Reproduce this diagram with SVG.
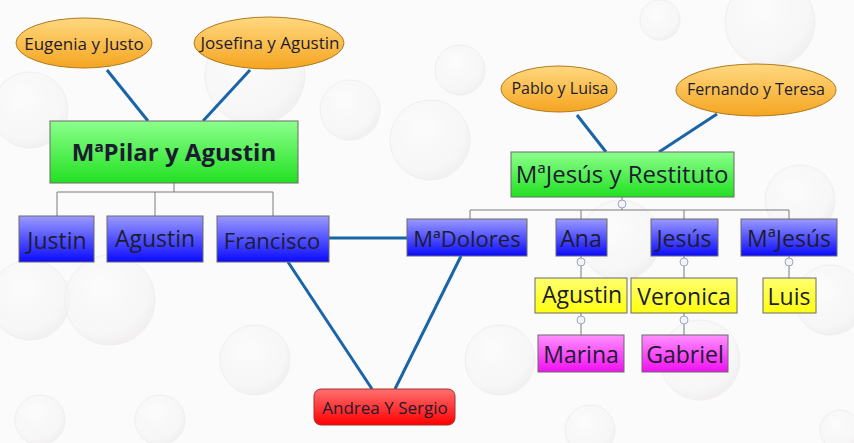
<svg xmlns="http://www.w3.org/2000/svg" width="854" height="443" viewBox="0 0 854 443">
<defs>
<linearGradient id="gBlue" x1="0" y1="0" x2="0" y2="1"><stop offset="0" stop-color="#9a9aff"/><stop offset="1" stop-color="#0a0aff"/></linearGradient>
<linearGradient id="gGreen" x1="0" y1="0" x2="0" y2="1"><stop offset="0" stop-color="#8cff8c"/><stop offset="1" stop-color="#22e022"/></linearGradient>
<linearGradient id="gYellow" x1="0" y1="0" x2="0" y2="1"><stop offset="0" stop-color="#ffff70"/><stop offset="1" stop-color="#ffff10"/></linearGradient>
<linearGradient id="gPink" x1="0" y1="0" x2="0" y2="1"><stop offset="0" stop-color="#ff90ff"/><stop offset="1" stop-color="#f010f0"/></linearGradient>
<linearGradient id="gOrange" x1="0" y1="0" x2="0" y2="1"><stop offset="0" stop-color="#ffd880"/><stop offset="1" stop-color="#f5a520"/></linearGradient>
<linearGradient id="gRed" x1="0" y1="0" x2="0" y2="1"><stop offset="0" stop-color="#ff7070"/><stop offset="1" stop-color="#ff0000"/></linearGradient>
<radialGradient id="bub" cx="0.4" cy="0.35" r="0.65"><stop offset="0" stop-color="#ffffff" stop-opacity="0.9"/><stop offset="0.8" stop-color="#ececec" stop-opacity="0.5"/><stop offset="1" stop-color="#dcd4d4" stop-opacity="0.6"/></radialGradient>
</defs>
<style>
.box{stroke:#6a6a6a;stroke-width:1}
.ell{stroke:#b07a20;stroke-width:1}
.t{font-family:"Open Sans","Noto Sans","DejaVu Sans",sans-serif;text-anchor:middle;dominant-baseline:central;fill:#1c1c30}
.link{stroke:#1a64a8;stroke-width:3;fill:none}
.tree{stroke:#7a7a7a;stroke-width:1;fill:none}
.col{fill:#f4f4f8;stroke:#9aa8c0;stroke-width:1}
.b{fill:url(#bub);stroke:#e4e0e0;stroke-width:1}
</style>
<rect width="854" height="443" fill="#fbfbfb"/>
<g id="background" opacity="0.45">
<circle class="b" cx="30" cy="110" r="38"/>
<circle class="b" cx="255" cy="75" r="50"/>
<circle class="b" cx="350" cy="110" r="30"/>
<circle class="b" cx="770" cy="22" r="45"/>
<circle class="b" cx="430" cy="140" r="40"/>
<circle class="b" cx="460" cy="70" r="25"/>
<circle class="b" cx="30" cy="300" r="40"/>
<circle class="b" cx="110" cy="300" r="45"/>
<circle class="b" cx="255" cy="360" r="35"/>
<circle class="b" cx="500" cy="360" r="35"/>
<circle class="b" cx="700" cy="360" r="40"/>
<circle class="b" cx="830" cy="300" r="35"/>
<circle class="b" cx="800" cy="200" r="35"/>
<circle class="b" cx="620" cy="240" r="40"/>
<circle class="b" cx="40" cy="420" r="25"/>
<circle class="b" cx="160" cy="420" r="25"/>
<circle class="b" cx="590" cy="430" r="25"/>
<circle class="b" cx="660" cy="20" r="20"/>
<circle class="b" cx="840" cy="430" r="20"/>
</g>
<g id="connectors">
<line class="link" x1="107" y1="70" x2="148" y2="121"/>
<line class="link" x1="250" y1="70" x2="203" y2="121"/>
<line class="link" x1="577" y1="115" x2="606" y2="152"/>
<line class="link" x1="717" y1="114" x2="659" y2="152"/>
<line class="link" x1="329" y1="238" x2="407" y2="238"/>
<line class="link" x1="288" y1="262" x2="372" y2="389"/>
<line class="link" x1="461" y1="256" x2="395" y2="389"/>
<path class="tree" d="M174 183V192M57 216V192H273V216M155 192V216"/>
<path class="tree" d="M622 197V210M470 219V210H789V219M581 210V219M684 210V219"/>
<path class="tree" d="M581 256V278M684 256V278M789 256V278M581 313V335M684 313V335"/>
<circle class="col" cx="622" cy="204" r="4"/>
<circle class="col" cx="581" cy="262" r="4"/>
<circle class="col" cx="684" cy="262" r="4"/>
<circle class="col" cx="789" cy="262" r="4"/>
<circle class="col" cx="581" cy="320" r="4"/>
<circle class="col" cx="684" cy="320" r="4"/>
</g>
<g id="eugenia"><ellipse class="ell" cx="84" cy="43" rx="68" ry="25" fill="url(#gOrange)"/><text class="t" x="84" y="43" font-size="17">Eugenia y Justo</text></g>
<g id="josefina"><ellipse class="ell" cx="269" cy="43" rx="75" ry="26" fill="url(#gOrange)"/><text class="t" x="270" y="42" font-size="17">Josefina y Agustin</text></g>
<g id="pablo"><ellipse class="ell" cx="559" cy="89" rx="58" ry="23" fill="url(#gOrange)"/><text class="t" x="560" y="88" font-size="16">Pablo y Luisa</text></g>
<g id="fernando"><ellipse class="ell" cx="756" cy="90" rx="80" ry="26" fill="url(#gOrange)"/><text class="t" x="756" y="89" font-size="16">Fernando y Teresa</text></g>
<g id="pilar"><rect class="box" x="50" y="121" width="248" height="62" fill="url(#gGreen)"/><text class="t" x="174" y="151" font-size="24" font-weight="bold" fill="#1f4a1f">MªPilar y Agustin</text></g>
<g id="restituto"><rect class="box" x="511" y="152" width="223" height="45" fill="url(#gGreen)"/><text class="t" x="622" y="173" font-size="24" fill="#1f3a1f">MªJesús y Restituto</text></g>
<g id="justin"><rect class="box" x="19" y="216" width="75" height="46" fill="url(#gBlue)"/><text class="t" x="57" y="240" font-size="23">Justin</text></g>
<g id="agustin1"><rect class="box" x="107" y="216" width="96" height="46" fill="url(#gBlue)"/><text class="t" x="155" y="238" font-size="23">Agustin</text></g>
<g id="francisco"><rect class="box" x="217" y="216" width="112" height="46" fill="url(#gBlue)"/><text class="t" x="272" y="240" font-size="22">Francisco</text></g>
<g id="dolores"><rect class="box" x="407" y="219" width="120" height="37" fill="url(#gBlue)"/><text class="t" x="467" y="238" font-size="22">MªDolores</text></g>
<g id="ana"><rect class="box" x="556" y="219" width="51" height="37" fill="url(#gBlue)"/><text class="t" x="581" y="238" font-size="23">Ana</text></g>
<g id="jesus"><rect class="box" x="651" y="219" width="67" height="37" fill="url(#gBlue)"/><text class="t" x="684" y="238" font-size="23">Jesús</text></g>
<g id="mjesus"><rect class="box" x="741" y="219" width="96" height="37" fill="url(#gBlue)"/><text class="t" x="789" y="238" font-size="23">MªJesús</text></g>
<g id="agustin2"><rect class="box" x="535" y="278" width="92" height="35" fill="url(#gYellow)"/><text class="t" x="582" y="294" font-size="23" fill="#101010">Agustin</text></g>
<g id="veronica"><rect class="box" x="631" y="278" width="106" height="35" fill="url(#gYellow)"/><text class="t" x="684" y="296" font-size="23" fill="#101010">Veronica</text></g>
<g id="luis"><rect class="box" x="763" y="278" width="53" height="35" fill="url(#gYellow)"/><text class="t" x="789" y="296" font-size="23" fill="#101010">Luis</text></g>
<g id="marina"><rect class="box" x="538" y="335" width="86" height="37" fill="url(#gPink)"/><text class="t" x="581" y="354" font-size="23" fill="#2a0a2a">Marina</text></g>
<g id="gabriel"><rect class="box" x="642" y="335" width="86" height="37" fill="url(#gPink)"/><text class="t" x="685" y="354" font-size="23" fill="#2a0a2a">Gabriel</text></g>
<g id="andrea"><rect x="314" y="389" width="141" height="36" rx="7" fill="url(#gRed)" stroke="#a03030" stroke-width="1"/><text class="t" x="385" y="407" font-size="17" fill="#5a1010">Andrea Y Sergio</text></g>
</svg>
